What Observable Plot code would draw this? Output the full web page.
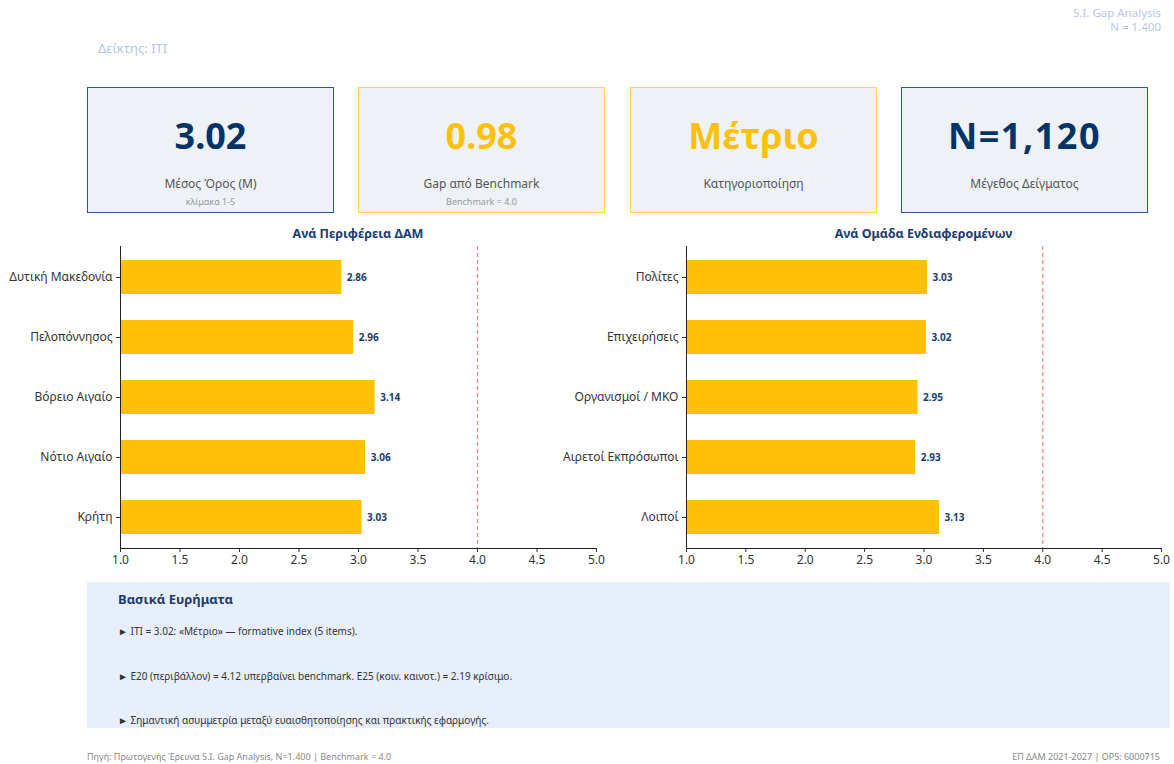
<!DOCTYPE html>
<html>
<head>
<meta charset="utf-8">
<script src="https://cdn.jsdelivr.net/npm/d3@7"></script>
<script src="https://cdn.jsdelivr.net/npm/@observablehq/plot@0.6"></script>
<style>
  html, body { margin: 0; padding: 0; background: #fff; }
  body { font-family: "Noto Sans", "Open Sans", sans-serif; }
  #page { position: relative; width: 1174px; height: 764px; overflow: hidden; }
  .abs { position: absolute; }
  .card { position: absolute; top: 87px; width: 245px; height: 124px; background: #eef1f6; box-sizing: content-box; }
  .card .val { position: absolute; left: 0; right: 0; top: 26px; text-align: center; font-weight: 700; font-size: 36px; line-height: 44px; }
  .card .lab { position: absolute; left: 0; right: 0; top: 87px; text-align: center; font-size: 12px; color: #555; }
  .card .sub { position: absolute; left: 0; right: 0; top: 107px; text-align: center; font-size: 9px; color: #999; }
  .ctitle { position: absolute; top: 225px; font-weight: 700; font-size: 12.5px; color: #1b3c6e; text-align: center; }
  #findings { position: absolute; left: 87px; top: 582px; width: 1083px; height: 146px; background: #e8effc; }
  #findings .h { position: absolute; left: 31px; top: 8px; font-weight: 700; font-size: 13px; color: #1b3c6e; }
  #findings .b { position: absolute; left: 31px; font-size: 10px; color: #333; white-space: nowrap; }
  .foot { position: absolute; top: 750px; font-size: 9px; color: #888; }
  svg { overflow: visible; }
</style>
</head>
<body>
<div id="page"></div>
<script>
// ---- data ----
const headerLines = ["S.I. Gap Analysis", "N = 1.400"];
const indexLabel = "Δείκτης: ΙΤΙ";
const kpiValues = ["3.02", "0.98", "Μέτριο", "N=1,120"];
const kpiLabels = ["Μέσος Όρος (M)", "Gap από Benchmark", "Κατηγοριοποίηση", "Μέγεθος Δείγματος"];
const kpiSubs = ["κλίμακα 1-5", "Benchmark = 4.0", "", ""];
const kpiTones = ["blue", "yellow", "yellow", "blue"];
const regions = ["Δυτική Μακεδονία", "Πελοπόννησος", "Βόρειο Αιγαίο", "Νότιο Αιγαίο", "Κρήτη"];
const regionValues = [2.86, 2.96, 3.14, 3.06, 3.03];
const groups = ["Πολίτες", "Επιχειρήσεις", "Οργανισμοί / ΜΚΟ", "Αιρετοί Εκπρόσωποι", "Λοιποί"];
const groupValues = [3.03, 3.02, 2.95, 2.93, 3.13];
const xTicks = [1.0, 1.5, 2.0, 2.5, 3.0, 3.5, 4.0, 4.5, 5.0];
const benchmark = 4.0;
const chartTitles = ["Ανά Περιφέρεια ΔΑΜ", "Ανά Ομάδα Ενδιαφερομένων"];
const findingsTitle = "Βασικά Ευρήματα";
const findings = [
  "► ΙΤΙ = 3.02: «Μέτριο» — formative index (5 items).",
  "► Ε20 (περιβάλλον) = 4.12 υπερβαίνει benchmark. Ε25 (κοιν. καινοτ.) = 2.19 κρίσιμο.",
  "► Σημαντική ασυμμετρία μεταξύ ευαισθητοποίησης και πρακτικής εφαρμογής."
];
const footLeft = "Πηγή: Πρωτογενής Έρευνα S.I. Gap Analysis, N=1.400 | Benchmark = 4.0";
const footRight = "ΕΠ ΔΑΜ 2021-2027 | OPS: 6000715";

// ---- style ----
const NAVY = "#003366";
const GOLD = "#FFC107";
const page = document.getElementById("page");
function el(tag, cls, css, text) {
  const e = document.createElement(tag);
  if (cls) e.className = cls;
  if (css) Object.assign(e.style, css);
  if (text != null) e.textContent = text;
  page.appendChild(e);
  return e;
}

// header
headerLines.forEach((t, i) => {
  el("div", "abs", {right: "13px", top: (6 + i * 14) + "px", textAlign: "right", fontSize: "11.5px", lineHeight: "13px", color: "#b9c9e2", whiteSpace: "nowrap"}, t);
});
el("div", "abs", {left: "98px", top: "39px", fontSize: "13px", color: "#b4c7e7"}, indexLabel);

// cards
const cardLefts = [87, 358, 630, 901];
kpiValues.forEach((v, i) => {
  const blue = kpiTones[i] === "blue";
  const c = el("div", "card", {left: cardLefts[i] + "px", border: blue ? "1.5px solid #2c5a91" : "1.5px solid #ffd54f"});
  const a = document.createElement("div"); a.className = "val"; a.textContent = v; a.style.color = blue ? NAVY : GOLD;
  if (i === 3) a.style.letterSpacing = "1.5px";
  c.appendChild(a);
  const b = document.createElement("div"); b.className = "lab"; b.textContent = kpiLabels[i]; c.appendChild(b);
  if (kpiSubs[i]) { const s = document.createElement("div"); s.className = "sub"; s.textContent = kpiSubs[i]; c.appendChild(s); }
});

// charts
function barChart(cats, vals, left, width, mLeft, mRight) {
  const data = cats.map((c, i) => ({cat: c, v: vals[i]}));
  const svg = Plot.plot({
    width: width, height: 358,
    marginTop: 26, marginBottom: 30, marginLeft: mLeft, marginRight: mRight,
    style: {fontFamily: '"Noto Sans", sans-serif', fontSize: "12px", color: "#333", background: "transparent", overflow: "visible"},
    x: {domain: [1, 5], ticks: xTicks, tickFormat: d3.format(".1f"), label: null},
    y: {domain: cats, paddingInner: 0.43, paddingOuter: 0.215, label: null},
    marks: [
      Plot.barX(data, {y: "cat", x1: 1, x2: "v", fill: GOLD}),
      Plot.ruleX([benchmark], {stroke: "#ff8080", strokeWidth: 1.2, strokeDasharray: "4,3"}),
      Plot.text(data, {y: "cat", x: "v", text: d => d.v.toFixed(2), textAnchor: "start", dx: 5, fill: "#1b3c6e", fontWeight: "bold", fontSize: 10}),
      Plot.axisX({ticks: xTicks, tickFormat: d3.format(".1f"), tickSize: 4, tickPadding: 3, fontSize: 12, label: null}),
      Plot.axisY({tickSize: 4, tickPadding: 4, fontSize: 12, label: null}),
      Plot.frame({anchor: "left", stroke: "#222"}),
      Plot.frame({anchor: "bottom", stroke: "#222"})
    ]
  });
  svg.style.position = "absolute";
  svg.style.left = left + "px";
  svg.style.top = "220px";
  page.appendChild(svg);
}
barChart(regions, regionValues, 0, 620, 120, 24);
barChart(groups, groupValues, 500, 674, 186, 13);

el("div", "ctitle", {left: "120px", width: "476px"}, chartTitles[0]);
el("div", "ctitle", {left: "686px", width: "475px"}, chartTitles[1]);

// findings
const f = el("div", null, null, null); f.id = "findings";
const fh = document.createElement("div"); fh.className = "h"; fh.textContent = findingsTitle; f.appendChild(fh);
const fTops = [42, 87, 131];
findings.forEach((t, i) => {
  const d = document.createElement("div"); d.className = "b"; d.style.top = fTops[i] + "px"; d.textContent = t; f.appendChild(d);
});

// footer
el("div", "foot", {left: "87px"}, footLeft);
el("div", "foot", {right: "14px", textAlign: "right"}, footRight);
</script>
</body>
</html>
